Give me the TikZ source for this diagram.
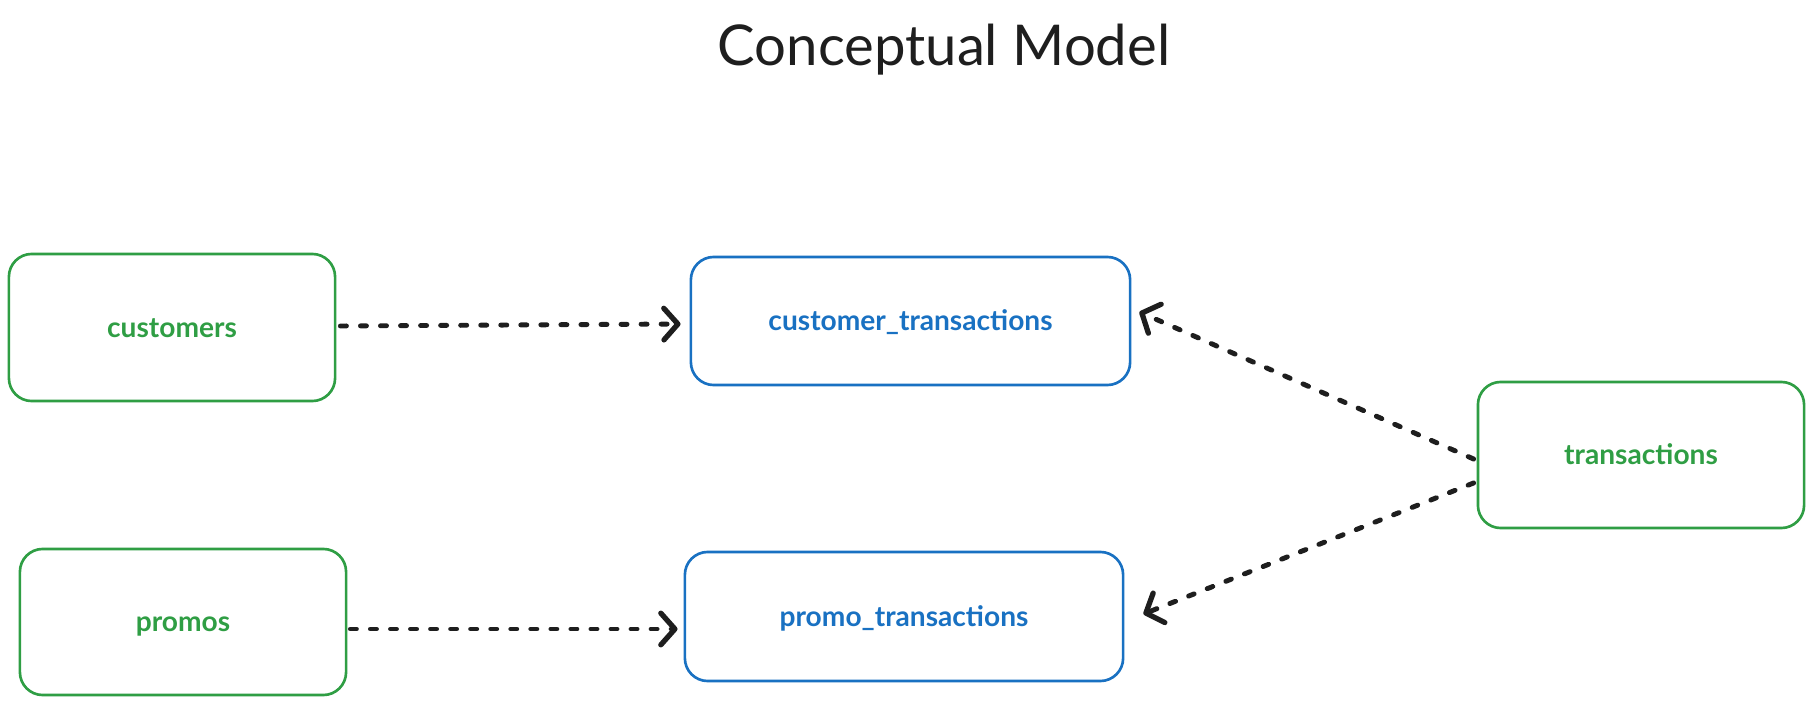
\documentclass[tikz,border=0pt]{standalone}
\usepackage{fontspec}
\setmainfont{Lato}
\usetikzlibrary{arrows.meta,calc}
\definecolor{exgreen}{HTML}{2F9E44}
\definecolor{exblue}{HTML}{1971C2}
\definecolor{exink}{HTML}{1E1E1E}
\tikzset{
  boxbase/.style={line width=0.75pt, rounded corners=6.5pt, font=\fontsize{8}{9}\selectfont\bfseries, inner sep=0pt, text height=1.55ex, text depth=0.45ex},
  entity/.style={boxbase, draw=exgreen, text=exgreen},
  derived/.style={boxbase, draw=exblue, text=exblue},
  conn/.style={draw=exink, line width=1.4pt, dash pattern=on 1.7pt off 4pt, line cap=round,
    -{Straight Barb[length=4pt,width=9pt,line width=1.5pt,line cap=round,line join=round]}},
}
\begin{document}
\begin{tikzpicture}[x=0.01cm,y=-0.01cm]
\useasboundingbox[fill=white] (0,0) rectangle (1813,704);
\node[font=\fontsize{16}{19}\selectfont, text=exink] (title) at (944,50) {Conceptual Model};
\node[entity, minimum width=3.26cm, minimum height=1.47cm] (customers) at (172,327.5) {customers};
\node[derived, minimum width=4.39cm, minimum height=1.28cm] (ct) at (910.5,321) {customer\_transactions};
\node[entity, minimum width=3.26cm, minimum height=1.46cm] (transactions) at (1641,455) {transactions};
\node[entity, minimum width=3.26cm, minimum height=1.46cm] (promos) at (183,622) {promos};
\node[derived, minimum width=4.38cm, minimum height=1.29cm] (pt) at (904,616.5) {promo\_transactions};
\draw[conn] ($(customers.east)+(4,-1.5)$) -- ($(ct.west)+(-9,3)$);
\draw[conn] ($(promos.east)+(3,7)$) -- ($(pt.west)+(-6,12.5)$);
\draw[conn] ($(transactions.west)+(-3,4)$) -- ($(ct.east)+(8,-9)$);
\draw[conn] ($(transactions.west)+(-3,28)$) -- ($(pt.east)+(19,-2.5)$);
\end{tikzpicture}
\end{document}
